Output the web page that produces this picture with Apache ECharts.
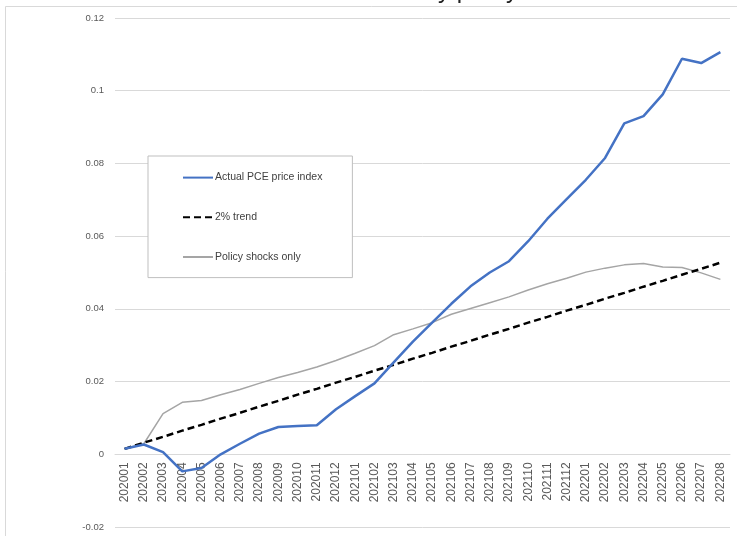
<!DOCTYPE html>
<html>
<head>
<meta charset="utf-8">
<style>
  html, body { margin: 0; padding: 0; background: #ffffff; }
  #chart { width: 737px; height: 536px; }
</style>
<script src="https://cdn.jsdelivr.net/npm/echarts@6/dist/echarts.min.js"></script>
</head>
<body>
<div id="chart"></div>
<script>
// Monthly periods, Jan 2020 to Aug 2022
const months = [
  '202001','202002','202003','202004','202005','202006','202007','202008',
  '202009','202010','202011','202012','202101','202102','202103','202104',
  '202105','202106','202107','202108','202109','202110','202111','202112',
  '202201','202202','202203','202204','202205','202206','202207','202208'
];

// Cumulative change in the PCE price index
const actualPce = [
  0.0015, 0.0027, 0.0006, -0.0047, -0.0038, 0.0000, 0.0029, 0.0057,
  0.0075, 0.0078, 0.0080, 0.0124, 0.0160, 0.0195, 0.0253, 0.0310,
  0.0362, 0.0414, 0.0462, 0.0500, 0.0531, 0.0586, 0.0648, 0.0702,
  0.0755, 0.0815, 0.0910, 0.0930, 0.0990, 0.1088, 0.1076, 0.1106
];

// Path implied by 2% annual inflation
const trend2pct = [
  0.0015, 0.0032, 0.0048, 0.0065, 0.0081, 0.0098, 0.0114, 0.0131,
  0.0147, 0.0164, 0.0180, 0.0197, 0.0213, 0.0230, 0.0246, 0.0263,
  0.0279, 0.0296, 0.0312, 0.0329, 0.0345, 0.0362, 0.0378, 0.0395,
  0.0411, 0.0428, 0.0444, 0.0461, 0.0477, 0.0494, 0.0510, 0.0527
];

// Counterfactual path with policy shocks only
const policyOnly = [
  0.0015, 0.0029, 0.0112, 0.0143, 0.0148, 0.0164, 0.0178, 0.0195,
  0.0211, 0.0225, 0.0240, 0.0258, 0.0278, 0.0299, 0.0329, 0.0345,
  0.0362, 0.0385, 0.0401, 0.0417, 0.0433, 0.0452, 0.0469, 0.0484,
  0.0501, 0.0512, 0.0521, 0.0525, 0.0515, 0.0514, 0.0499, 0.0481
];

const seriesNames = ['Actual PCE price index', '2% trend', 'Policy shocks only'];
const chartTitle = 'Inflation: actual vs. monetary policy';

const yMin = -0.02;
const yMax = 0.12;
const gridTop = 18;
const gridBottom = 9;
const chartHeight = 536;

// Place the category axis on the zero line of the value axis
const plotHeight = chartHeight - gridTop - gridBottom;
const zeroOffset = plotHeight * (0 - yMin) / (yMax - yMin);

const chart = echarts.init(document.getElementById('chart'), null, { renderer: 'canvas' });

chart.setOption({
  animation: false,
  backgroundColor: '#ffffff',
  textStyle: { fontFamily: 'Liberation Sans, Arial, sans-serif' },
  graphic: [
    {
      type: 'rect',
      silent: true,
      shape: { x: 5.5, y: 6.5, width: 900, height: 700 },
      style: { fill: 'none', stroke: '#d9d9d9', lineWidth: 1 }
    },
    {
      type: 'text',
      silent: true,
      x: 518,
      y: 3,
      style: {
        text: chartTitle,
        fill: '#222222',
        font: '24px "Liberation Sans", Arial, sans-serif',
        align: 'right',
        verticalAlign: 'bottom'
      }
    }
  ],
  grid: {
    left: 115,
    right: 7,
    top: gridTop,
    bottom: gridBottom,
    outerBoundsMode: 'none'
  },
  legend: {
    orient: 'vertical',
    left: 148,
    top: 156,
    backgroundColor: '#ffffff',
    borderColor: '#bfbfbf',
    borderWidth: 1,
    padding: [16, 30, 15, 34],
    itemWidth: 30,
    itemHeight: 14,
    itemGap: 28.5,
    data: seriesNames,
    itemStyle: { opacity: 0 },
    textStyle: { color: '#404040', fontSize: 10.5, padding: [0, 0, 0, -3] }
  },
  xAxis: {
    type: 'category',
    data: months,
    boundaryGap: true,
    position: 'bottom',
    offset: -zeroOffset,
    axisLine: { show: true, onZero: false, lineStyle: { color: '#d9d9d9', width: 1 } },
    axisTick: { show: false },
    axisLabel: {
      rotate: 90,
      interval: 0,
      margin: 8,
      color: '#595959',
      fontSize: 12
    },
    splitLine: { show: false }
  },
  yAxis: {
    type: 'value',
    min: yMin,
    max: yMax,
    interval: 0.02,
    axisLine: { show: false },
    axisTick: { show: false },
    axisLabel: {
      color: '#595959',
      fontSize: 9.5,
      margin: 11,
      formatter: function (v) { return String(Math.round(v * 100) / 100); }
    },
    splitLine: { lineStyle: { color: '#d9d9d9', width: 1 } }
  },
  series: [
    {
      name: seriesNames[0],
      type: 'line',
      data: actualPce,
      showSymbol: false,
      symbol: 'none',
      lineStyle: { color: '#4472c4', width: 2.5 },
      itemStyle: { color: '#4472c4' },
      z: 4
    },
    {
      name: seriesNames[1],
      type: 'line',
      data: trend2pct,
      showSymbol: false,
      symbol: 'none',
      lineStyle: { color: '#000000', width: 2.5, type: [7, 4] },
      itemStyle: { color: '#000000' },
      z: 3
    },
    {
      name: seriesNames[2],
      type: 'line',
      data: policyOnly,
      showSymbol: false,
      symbol: 'none',
      lineStyle: { color: '#a5a5a5', width: 1.5 },
      itemStyle: { color: '#a5a5a5' },
      z: 2
    }
  ]
});
</script>
</body>
</html>
